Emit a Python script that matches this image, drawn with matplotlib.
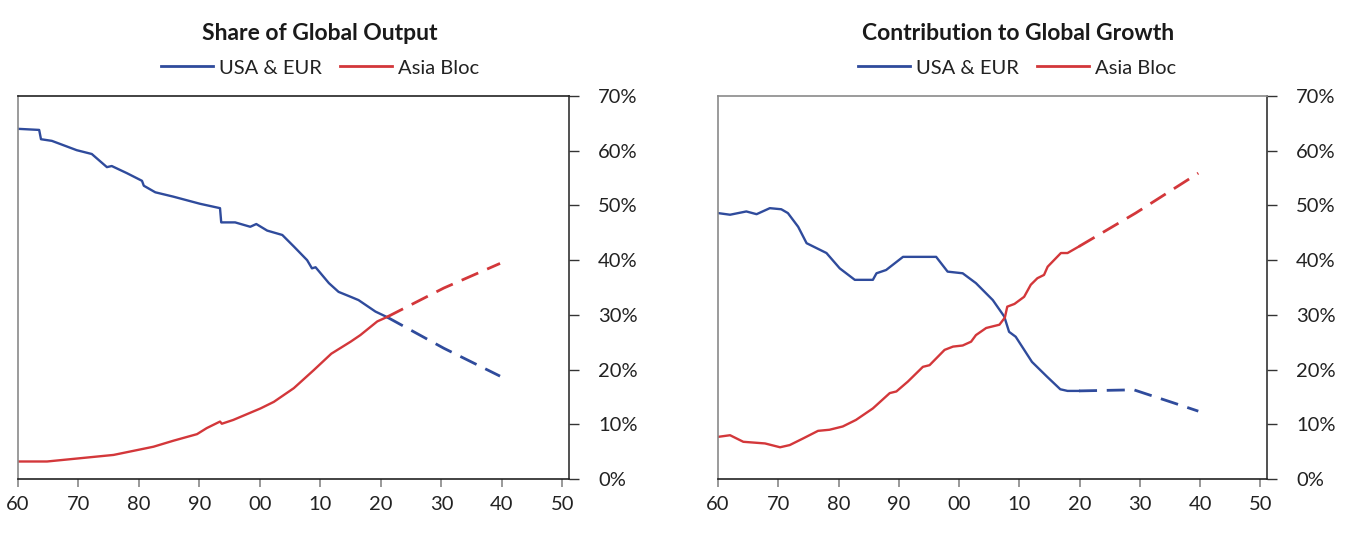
import numpy as np
from matplotlib import pyplot as plt
from matplotlib.lines import Line2D

# Share of Global Output
out_usa_yr = [1960, 1963.5, 1963.8, 1965.6, 1969.7, 1972.2, 1974.7, 1975.5, 1978, 1980.5, 1980.8,
              1982.7, 1985.7, 1990.1, 1993.4, 1993.6, 1995.9, 1998.4, 1999.4, 2001.2, 2003.7,
              2005.6, 2007.8, 2008.6, 2009.2, 2011.4, 2013.0, 2015.0, 2016.3, 2019.1, 2021.0]
out_usa = [64.0, 63.8, 62.1, 61.8, 60.1, 59.4, 57.0, 57.2, 55.9, 54.5, 53.6,
           52.4, 51.6, 50.3, 49.5, 46.9, 46.9, 46.1, 46.6, 45.4, 44.6,
           42.5, 40.0, 38.5, 38.7, 35.8, 34.2, 33.3, 32.7, 30.6, 29.6]
out_usa_proj_yr = [2021.0, 2030.4, 2039.7]
out_usa_proj = [29.6, 23.9, 18.8]

out_asia_yr = [1960, 1964.8, 1970.3, 1975.8, 1980.2, 1982.4, 1985.7, 1989.6, 1991.2, 1993.4, 1993.7,
               1995.6, 2000.1, 2002.3, 2005.6, 2008.9, 2011.8, 2015.0, 2016.6, 2019.4, 2021.0]
out_asia = [3.2, 3.2, 3.8, 4.4, 5.4, 5.9, 7.0, 8.2, 9.3, 10.5, 10.1,
            10.8, 12.9, 14.1, 16.6, 19.9, 22.9, 25.1, 26.3, 28.8, 29.6]
out_asia_proj_yr = [2021.0, 2030.4, 2039.7]
out_asia_proj = [29.6, 34.9, 39.4]

# Contribution to Global Growth
gr_usa_yr = [1960, 1962, 1964.7, 1966.4, 1968.6, 1970.5, 1971.6, 1973.3, 1974.7, 1978.0, 1980.2,
             1982.7, 1985.7, 1986.3, 1987.9, 1990.7, 1992.9, 1996.2, 1998.1, 2000.6, 2002.8,
             2005.6, 2007.5, 2008.3, 2009.4, 2012.1, 2014.6, 2016.8, 2018.0, 2019.9]
gr_usa = [48.6, 48.3, 48.9, 48.4, 49.5, 49.3, 48.6, 46.1, 43.1, 41.3, 38.5,
          36.4, 36.4, 37.6, 38.2, 40.6, 40.6, 40.6, 37.9, 37.6, 35.8,
          32.7, 29.7, 26.9, 26.0, 21.4, 18.7, 16.4, 16.1, 16.1]
gr_usa_proj_yr = [2019.9, 2029.0, 2035.9, 2039.7]
gr_usa_proj = [16.1, 16.3, 13.8, 12.4]

gr_asia_yr = [1960, 1962, 1964.2, 1967.8, 1970.3, 1971.9, 1974.1, 1976.6, 1978.5, 1980.7, 1982.9,
              1985.7, 1988.5, 1989.6, 1991.5, 1994.0, 1995.1, 1997.6, 1999.0, 2000.6, 2002.0,
              2002.8, 2004.5, 2006.7, 2007.6, 2008.0, 2009.2, 2010.8, 2011.9, 2013.0, 2014.1,
              2014.7, 2016.9, 2018.0, 2019.9]
gr_asia = [7.7, 8.0, 6.8, 6.5, 5.8, 6.2, 7.4, 8.8, 9.0, 9.6, 10.8,
           12.9, 15.7, 16.0, 17.8, 20.5, 20.8, 23.6, 24.2, 24.4, 25.1,
           26.3, 27.6, 28.2, 29.5, 31.5, 32.0, 33.3, 35.5, 36.7, 37.3,
           38.8, 41.3, 41.3, 42.5]
gr_asia_proj_yr = [2019.9, 2029.3, 2039.7]
gr_asia_proj = [42.5, 48.6, 55.9]

year_ticks = [1960, 1970, 1980, 1990, 2000, 2010, 2020, 2030, 2040, 2050]
year_labels = ["60", "70", "80", "90", "00", "10", "20", "30", "40", "50"]
pct_ticks = [0, 10, 20, 30, 40, 50, 60, 70]

BLUE = "#2f4b9c"
RED = "#d3373a"
plt.rcParams['font.family'] = ['Lato', 'DejaVu Sans']

fig = plt.figure(figsize=(13.52, 5.4), dpi=100)
ax1 = fig.add_axes([18/1352, 61/540, 551/1352, 383/540])
ax2 = fig.add_axes([718/1352, 61/540, 549/1352, 383/540])


def panel(ax, usa_yr, usa, usa_p_yr, usa_p, asia_yr, asia, asia_p_yr, asia_p, top_col):
    ax.plot(usa_yr, usa, color=BLUE, lw=1.7)
    ax.plot(usa_p_yr, usa_p, color=BLUE, lw=2.0, dashes=(6.5, 3.5))
    ax.plot(asia_yr, asia, color=RED, lw=1.7)
    ax.plot(asia_p_yr, asia_p, color=RED, lw=2.0, dashes=(6.5, 3.5))
    ax.set_xlim(1960, 2051.1)
    ax.set_ylim(0, 70)
    ax.set_xticks(year_ticks)
    ax.set_xticklabels(year_labels)
    ax.set_yticks(pct_ticks)
    ax.set_yticklabels([f"{p}%" for p in pct_ticks])
    ax.yaxis.tick_right()
    ax.tick_params(axis='y', direction='out', length=7, width=1, color='#333333',
                   labelsize=14.5, pad=14, labelcolor='#222222')
    ax.tick_params(axis='x', direction='out', length=6, width=1.2, color='#888888',
                   labelsize=14.5, pad=6, labelcolor='#222222')
    ax.spines['left'].set_color('#8a8a8a')
    ax.spines['bottom'].set_color('#222222')
    ax.spines['right'].set_color('#333333')
    ax.spines['top'].set_color(top_col)
    for s in ax.spines.values():
        s.set_linewidth(1.2)


panel(ax1, out_usa_yr, out_usa, out_usa_proj_yr, out_usa_proj,
      out_asia_yr, out_asia, out_asia_proj_yr, out_asia_proj, '#222222')
panel(ax2, gr_usa_yr, gr_usa, gr_usa_proj_yr, gr_usa_proj,
      gr_asia_yr, gr_asia, gr_asia_proj_yr, gr_asia_proj, '#8a8a8a')

title_font = ['Liberation Sans Narrow', 'Lato']
fig.text(320/1352, 1 - 34/540, "Share of Global Output", ha='center', va='center',
         fontsize=16.5, fontweight='bold', family=title_font, color='#1a1a1a')
fig.text(1018/1352, 1 - 34/540, "Contribution to Global Growth", ha='center', va='center',
         fontsize=16.5, fontweight='bold', family=title_font, color='#1a1a1a')

handles = [Line2D([], [], color=BLUE, lw=2), Line2D([], [], color=RED, lw=2)]
names = ["USA & EUR", "Asia Bloc"]
for cx in [320/1352, 1017/1352]:
    fig.legend(handles, names, loc='center', bbox_to_anchor=(cx, 1 - 68/540), ncol=2,
               frameon=False, fontsize=14.5, handlelength=2.6, handletextpad=0.3,
               columnspacing=0.9, borderpad=0, labelcolor='#222222')

fig.savefig("out.png", dpi=100)
